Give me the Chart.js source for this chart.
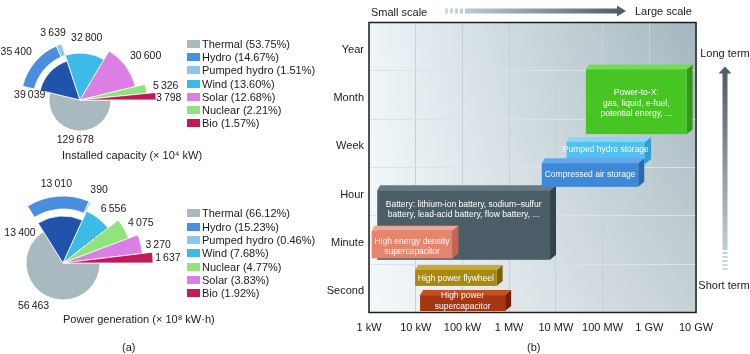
<!DOCTYPE html>
<html>
<head>
<meta charset="utf-8">
<script src="https://cdn.jsdelivr.net/npm/chart.js@4.4.1/dist/chart.umd.min.js"></script>
<style>
  body { margin: 0; background: #fff; }
  #page { position: relative; width: 750px; height: 354px; overflow: hidden;
          font-family: "Liberation Sans", Arial, sans-serif; color: #1a1a1a; }
  canvas { position: absolute; }
  .txt { position: absolute; font-size: 11px; line-height: 14px; white-space: nowrap; }
  .legend-row { position: absolute; font-size: 11px; line-height: 14px; white-space: nowrap;
                display: flex; align-items: center; }
  .legend-row span { display: inline-block; width: 13px; height: 8px; margin-right: 2px; }
</style>
</head>
<body>
<div id="page">
  <canvas id="capPie" width="210" height="160" style="left:-25px; top:20px"></canvas>
  <canvas id="genPie" width="240" height="190" style="left:-57px; top:168px"></canvas>
  <canvas id="storage" width="435" height="354" style="left:315px; top:0px"></canvas>

  <div class="txt" style="left:62px; top:148px">Installed capacity (× 10⁴ kW)</div>
  <div class="txt" style="left:63px; top:312px">Power generation (× 10⁸ kW·h)</div>
  <div class="txt" style="left:122px; top:340px">(a)</div>
  <div class="txt" style="left:527px; top:340px">(b)</div>
  <div class="txt" style="left:371px; top:5px">Small scale</div>
  <div class="txt" style="left:635px; top:4px">Large scale</div>
  <div class="txt" style="left:695px; top:46px; width:60px; text-align:center">Long term</div>
  <div class="txt" style="left:694px; top:278px; width:60px; text-align:center">Short term</div>
</div>

<script>
// (a) installed capacity (x 10^4 kW)
const capSources = ['Thermal', 'Hydro', 'Pumped hydro', 'Wind', 'Solar', 'Nuclear', 'Bio'];
const capValues  = [129678, 35400, 3639, 32800, 30600, 5326, 3798];

// (a) power generation (x 10^8 kWh)
const genSources = ['Thermal', 'Hydro', 'Pumped hydro', 'Wind', 'Nuclear', 'Solar', 'Bio'];
const genValues  = [56463, 13010, 390, 6556, 4075, 3270, 1637];

// (b) storage technologies: rated power (kW) vs discharge duration
const durations       = ['Year', 'Month', 'Week', 'Hour', 'Minute', 'Second'];
const powerTicks      = [1, 10, 100, 1e3, 1e4, 1e5, 1e6, 1e7];
const powerTickLabels = ['1 kW', '10 kW', '100 kW', '1 MW', '10 MW', '100 MW', '1 GW', '10 GW'];
const techLabels = [
  ['Battery: lithium-ion battery, sodium\u2013sulfur', 'battery, lead-acid battery, flow battery, ...'],
  ['High energy density', 'supercapacitor'],
  ['Pumped hydro storage'],
  ['Compressed air storage'],
  ['Power-to-X:', 'gas, liquid, e-fuel,', 'potential energy, ...'],
  ['High power flywheel'],
  ['High power', 'supercapacitor']
];
const techPowerMin = [1.5, 1.14, 17000, 5000, 44000, 9.7, 12.4];
const techPowerMax = [7500, 61, 810000, 580000, 6300000, 540, 820];
// position on the duration axis (0 = Year ... 5 = Second)
const techDurTop    = [2.97, 3.81, 1.97, 2.41, 0.47, 4.62, 5.14];
const techDurBottom = [4.41, 4.38, 2.43, 2.90, 1.81, 4.95, 5.47];

// ---- styles ----
Chart.defaults.font.family = '"Liberation Sans", Arial, sans-serif';
Chart.defaults.font.size = 11;
Chart.defaults.color = '#1a1a1a';

const sourceColors = {
  'Thermal': '#a8b9c0',
  'Hydro': '#4a8fdd',
  'Pumped hydro': '#8cc6ef',
  'Wind': '#3bbbe6',
  'Solar': '#db7fe4',
  'Nuclear': '#90e37d',
  'Bio': '#c21a57'
};
const hydroTotalColor = '#2053aa';

const techFront = ['#4b5e68', '#e9846c', '#52bfee', '#3e88d9', '#47c623', '#a88a10', '#a53613'];
const techTop   = ['#667a84', '#f3a48f', '#86d6f7', '#65a6ec', '#74db52', '#c8aa36', '#c44f22'];
const techSide  = ['#33444d', '#c9654f', '#2e9fd2', '#2b68b3', '#2f9a12', '#7a6206', '#771f06'];
const techTextDy = [-15.3, 2, -3.5, 0, 1.5, 1, -2];

const fmt = v => v.toLocaleString('en-US').replace(/,/g, '\u2009');

function addLegend(sources, values, left, top, step) {
  const total = values.reduce((a, b) => a + b, 0);
  const page = document.getElementById('page');
  sources.forEach((name, i) => {
    const row = document.createElement('div');
    row.className = 'legend-row';
    row.style.left = left + 'px';
    row.style.top = (top + i * step - 7) + 'px';
    row.innerHTML = '<span style="background:' + sourceColors[name] + '"></span>' +
      name + ' (' + (values[i] / total * 100).toFixed(2) + '%)';
    page.appendChild(row);
  });
}

// per-slice radii and value label placement [angle shift deg, radial pad px, align]
function makeSliceShape(look) {
  return {
    id: 'sliceShape',
    afterDatasetsUpdate(chart) {
      chart.getDatasetMeta(0).data.forEach((arc, i) => {
        arc.innerRadius = 0;
        arc.outerRadius = look.radius[i];
      });
      chart.getDatasetMeta(1).data.forEach(arc => {
        arc.innerRadius = look.ring[0];
        arc.outerRadius = look.ring[1];
      });
    },
    afterDatasetsDraw(chart) {
      const ctx = chart.ctx;
      ctx.save();
      ctx.font = '10.5px "Liberation Sans", Arial, sans-serif';
      ctx.fillStyle = '#1a1a1a';
      ctx.textBaseline = 'middle';
      [look.innerLabels, look.ringLabels].forEach((labels, d) => {
        const data = chart.data.datasets[d].data;
        chart.getDatasetMeta(d).data.forEach((arc, i) => {
          const lab = labels[i];
          if (!lab) return;
          const a = (arc.startAngle + arc.endAngle) / 2 + lab[0] * Math.PI / 180;
          const r = arc.outerRadius + lab[1];
          ctx.textAlign = lab[2];
          ctx.fillText(fmt(data[i]), arc.x + Math.cos(a) * r, arc.y + Math.sin(a) * r);
        });
      });
      ctx.restore();
    }
  };
}

function drawPie(canvasId, sources, values, look) {
  // inner pie: hydro shown as one wedge, split out in the ring around it
  const innerValues = [values[0], values[1] + values[2]].concat(values.slice(3));
  const innerColors = [sourceColors[sources[0]], hydroTotalColor].concat(sources.slice(3).map(s => sourceColors[s]));
  const ringColors = sources.map((s, i) => (i === 1 || i === 2) ? sourceColors[s] : 'rgba(0,0,0,0)');

  return new Chart(document.getElementById(canvasId), {
    type: 'pie',
    data: {
      labels: sources,
      datasets: [
        { data: innerValues, backgroundColor: innerColors, borderColor: '#fff', borderWidth: 0.8 },
        {
          data: values, backgroundColor: ringColors, borderColor: '#fff',
          borderWidth: ctx => (ctx.dataIndex === 1 || ctx.dataIndex === 2) ? 0.8 : 0
        }
      ]
    },
    options: {
      responsive: false,
      animation: false,
      rotation: 90,
      plugins: { legend: { display: false }, tooltip: { enabled: false } }
    },
    plugins: [makeSliceShape(look)]
  });
}

drawPie('capPie', capSources, capValues, {
  radius: [31, 41, 47, 57, 67, 76],
  ring: [47, 59],
  innerLabels: [[0, 9, 'center'], [-34.7, -6, 'right'], [0, 15, 'center'],
                [-5, 9.6, 'left'], [-1.3, 7.3, 'left'], [1.3, 0, 'left']],
  ringLabels: [null, [5, 9, 'right'], [-1, 13, 'center']]
});
addLegend(capSources, capValues, 187, 44, 13.2);

drawPie('genPie', genSources, genValues, {
  radius: [37, 47, 57, 70, 80, 90],
  ring: [54, 67],
  innerLabels: [[5.5, 15, 'center'], [-38.6, -6.4, 'right'], [-3.4, 9, 'left'],
                [-2.3, 6.3, 'left'], [1.3, 4.4, 'left'], [0.35, 2.3, 'left']],
  ringLabels: [null, [-0.2, 12.6, 'center'], [2.8, 14, 'center']]
});
addLegend(genSources, genValues, 187, 213.3, 13.3);

// ---- (b) ----
function drawBox(ctx, l, t, r, b, i) {
  const dl = 3, dr = 6, dy = 5;
  ctx.fillStyle = techSide[i];
  ctx.beginPath();
  ctx.moveTo(r, t); ctx.lineTo(r + dr, t - dy); ctx.lineTo(r + dr, b - dy); ctx.lineTo(r, b);
  ctx.closePath(); ctx.fill();
  ctx.fillStyle = techTop[i];
  ctx.beginPath();
  ctx.moveTo(l, t); ctx.lineTo(l + dl, t - dy); ctx.lineTo(r + dr, t - dy); ctx.lineTo(r, t);
  ctx.closePath(); ctx.fill();
  ctx.fillStyle = techFront[i];
  ctx.fillRect(l, t, r - l, b - t);
}

function hArrow(ctx, x0, x1, y, light, dark) {
  const g = ctx.createLinearGradient(x0, 0, x1 + 9, 0);
  g.addColorStop(0, light); g.addColorStop(1, dark);
  ctx.fillStyle = g;
  for (let k = 0; k < 4; k++) ctx.fillRect(x0 + k * 5, y - 2.5, 3, 5);
  ctx.fillRect(x0 + 20, y - 2.5, x1 - x0 - 20, 5);
  ctx.beginPath();
  ctx.moveTo(x1, y - 5.5); ctx.lineTo(x1 + 9, y); ctx.lineTo(x1, y + 5.5);
  ctx.closePath(); ctx.fill();
}

function vArrow(ctx, x, yTip, y1, light, dark) {
  const g = ctx.createLinearGradient(0, yTip, 0, y1 + 20);
  g.addColorStop(0, dark); g.addColorStop(1, light);
  ctx.fillStyle = g;
  ctx.beginPath();
  ctx.moveTo(x, yTip); ctx.lineTo(x + 6.5, yTip + 7); ctx.lineTo(x - 6.5, yTip + 7);
  ctx.closePath(); ctx.fill();
  ctx.fillRect(x - 2.5, yTip + 6.5, 5, y1 - yTip - 6.5);
  for (let k = 0; k < 5; k++) ctx.fillRect(x - 2.5, y1 + 2 + k * 4, 5, 2);
}

const storagePlugin = {
  id: 'storagePlugin',
  beforeDraw(chart) {
    const { ctx, chartArea: a } = chart;
    ctx.save();
    const g = ctx.createLinearGradient(a.left, 0, a.right, 0);
    g.addColorStop(0, '#edf5f8');
    g.addColorStop(1, '#a4b6be');
    ctx.fillStyle = g;
    ctx.fillRect(a.left, a.top, a.width, a.height);
    const v = ctx.createLinearGradient(0, a.top, 0, a.bottom);
    v.addColorStop(0, 'rgba(255,255,255,0)');
    v.addColorStop(1, 'rgba(255,255,255,0.38)');
    ctx.fillStyle = v;
    ctx.fillRect(a.left, a.top, a.width, a.height);
    ctx.restore();
  },
  afterDatasetsDraw(chart) {
    const { ctx, scales: { x, y } } = chart;
    ctx.save();
    techLabels.forEach((lines, i) => {
      const l = x.getPixelForValue(techPowerMin[i]);
      const r = x.getPixelForValue(techPowerMax[i]);
      const t = y.getPixelForValue(techDurTop[i]);
      const b = y.getPixelForValue(techDurBottom[i]);
      drawBox(ctx, l, t, r, b, i);
      ctx.fillStyle = '#fff';
      ctx.font = '8.5px "Liberation Sans", Arial, sans-serif';
      ctx.textAlign = 'center';
      ctx.textBaseline = 'middle';
      const cy = (t + b) / 2 + techTextDy[i] - (lines.length - 1) * 10.3 / 2;
      lines.forEach((s, k) => ctx.fillText(s, (l + r) / 2, cy + k * 10.3));
    });
    ctx.restore();
  },
  afterDraw(chart) {
    const { ctx, chartArea: a } = chart;
    ctx.save();
    ctx.strokeStyle = '#1e1e1e';
    ctx.lineWidth = 1.5;
    ctx.strokeRect(a.left, a.top, a.width, a.height);
    hArrow(ctx, 130, 302, 11, '#cadbe2', '#4a5a65');
    vArrow(ctx, 410, 66.5, 250, '#cadbe2', '#4a5a65');
    ctx.restore();
  }
};

new Chart(document.getElementById('storage'), {
  type: 'scatter',
  data: { datasets: [] },
  options: {
    responsive: false,
    animation: false,
    layout: { padding: { top: 22.5, right: 54, left: 0, bottom: 0 } },
    plugins: { legend: { display: false }, tooltip: { enabled: false } },
    scales: {
      x: {
        type: 'logarithmic',
        min: powerTicks[0],
        max: powerTicks[powerTicks.length - 1],
        afterBuildTicks: axis => { axis.ticks = powerTicks.map(v => ({ value: v })); },
        afterFit: axis => { axis.height = 41.5; },
        grid: { color: '#c6d1d7', drawTicks: false },
        border: { display: false },
        ticks: {
          padding: 9, maxRotation: 0, autoSkip: false,
          callback: v => powerTickLabels[powerTicks.indexOf(v)]
        }
      },
      y: {
        type: 'category',
        labels: durations,
        min: durations[0],
        max: durations[durations.length - 1],
        offset: true,
        afterFit: axis => { axis.width = 54; },
        grid: { offset: true, color: '#dae3e7', drawTicks: false },
        border: { display: false },
        ticks: { padding: 5, labelOffset: 3 }
      }
    }
  },
  plugins: [storagePlugin]
});
</script>
</body>
</html>
